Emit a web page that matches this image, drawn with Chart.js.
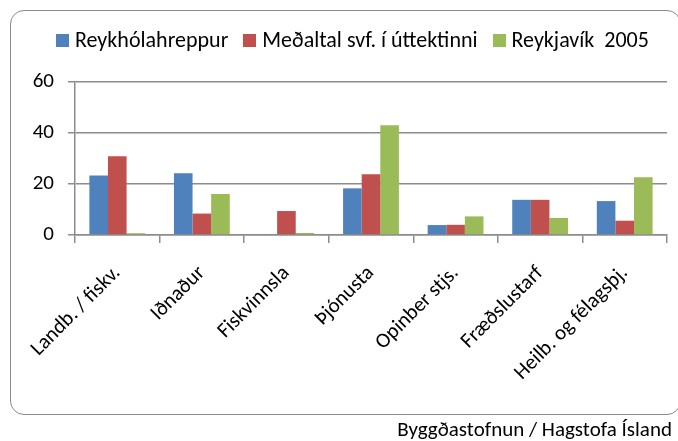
<!DOCTYPE html>
<html>
<head>
<meta charset="utf-8">
<script src="https://cdn.jsdelivr.net/npm/chart.js@4"></script>
<style>
html,body{margin:0;padding:0;background:#fff;}
#wrap{position:relative;width:678px;height:441px;overflow:hidden;}
#frame{position:absolute;left:10px;top:10px;width:671px;height:405px;border:1.5px solid #8a8a8a;border-radius:14px;box-sizing:border-box;}
#c{position:absolute;left:0;top:0;}
#legend{position:absolute;left:56px;top:28px;display:flex;align-items:center;font:22px 'Carlito',sans-serif;line-height:24px;color:#000;white-space:pre;}
#legend .item{display:flex;align-items:center;margin-right:15px;}
#legend .box{width:13px;height:13px;margin-right:6px;}
#src{position:absolute;right:6px;top:416px;font:21px 'Carlito',sans-serif;color:#000;}
</style>
</head>
<body>
<div id="wrap">
<div id="frame"></div>
<canvas id="c" width="678" height="441"></canvas>
<div id="legend"></div>
<div id="src">Byggðastofnun / Hagstofa Ísland</div>
</div>
<script>
// flokkar og gildi lesin af myndinni
const flokkar=["Landb. / fiskv.","Iðnaður","Fiskvinnsla","Þjónusta","Opinber stjs.","Fræðslustarf","Heilb. og félagsþj."]
const reykholahreppur=[23.3,24.2,0,18.3,3.9,13.8,13.3]
const medaltal=[30.9,8.4,9.4,23.8,4.0,13.8,5.6]
const reykjavik=[0.7,16.1,0.8,43.0,7.3,6.7,22.6]
const yTicks=[0,20,40,60]

const letur="'Carlito',sans-serif"

const chart=new Chart(document.getElementById("c"),{
type:"bar",
data:{
labels:flokkar,
datasets:[
{label:"Reykhólahreppur",data:reykholahreppur,backgroundColor:"#4F81BD"},
{label:"Meðaltal svf. í úttektinni",data:medaltal,backgroundColor:"#C0504D"},
{label:"Reykjavík  2005",data:reykjavik,backgroundColor:"#9BBB59"}
]
},
options:{
responsive:false,
animation:false,
layout:{padding:{left:0,right:11,top:82,bottom:0}},
datasets:{bar:{categoryPercentage:0.66,barPercentage:1}},
plugins:{
legend:{display:false},
tooltip:{enabled:false}
},
scales:{
y:{
min:0,max:60,
afterBuildTicks:ax=>{ax.ticks=yTicks.map(v=>({value:v}))},
afterFit:ax=>{ax.width=75},
grid:{color:"#8c8c8c",lineWidth:1.5,tickLength:7},
border:{color:"#8c8c8c",width:1.5},
ticks:{color:"#000",padding:14,font:{family:letur,size:21}}
},
x:{
afterFit:ax=>{ax.height=206},
grid:{offset:true,drawOnChartArea:false,color:"#8c8c8c",lineWidth:1.5,tickLength:8},
border:{color:"#8c8c8c",width:1.5},
ticks:{color:"#000",minRotation:45,maxRotation:45,padding:18,font:{family:letur,size:21}}
}
}
}
})

// skýringar (legend) í HTML
const legend=document.getElementById("legend")
chart.data.datasets.forEach(ds=>{
const item=document.createElement("span")
item.className="item"
item.innerHTML=`<span class="box" style="background:${ds.backgroundColor}"></span>${ds.label}`
legend.appendChild(item)
})
</script>
</body>
</html>
